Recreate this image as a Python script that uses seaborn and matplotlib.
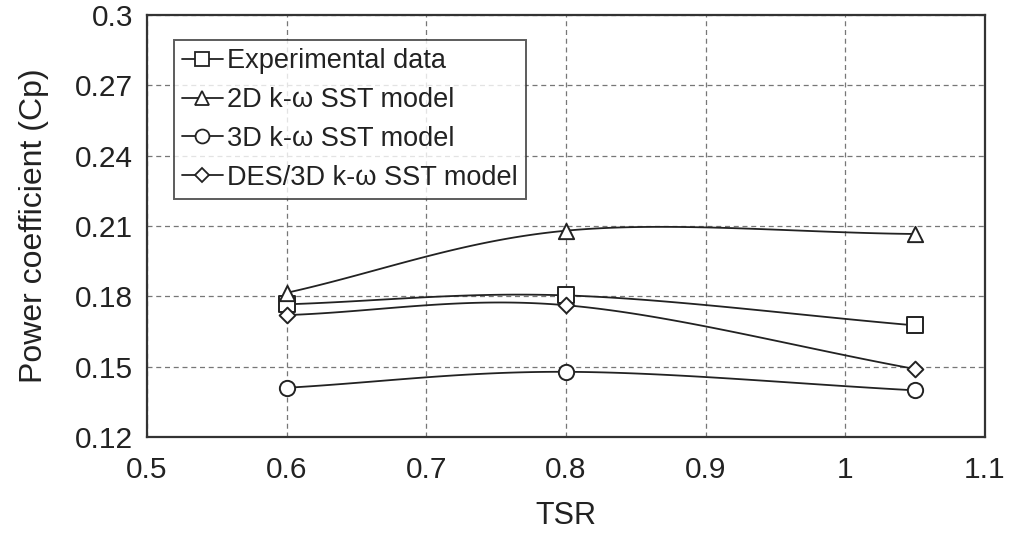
import numpy as np
import pandas as pd
import matplotlib
matplotlib.use("Agg")
import matplotlib.pyplot as plt
import seaborn as sns
from matplotlib.lines import Line2D

tsr = [0.6, 0.8, 1.05]
series_names = ["Experimental data", "2D k-\u03c9 SST model", "3D k-\u03c9 SST model", "DES/3D k-\u03c9 SST model"]
exp_cp = [0.1766, 0.1804, 0.1676]
sst2d_cp = [0.1815, 0.2080, 0.2066]
sst3d_cp = [0.1410, 0.1478, 0.1399]
des_cp = [0.1720, 0.1762, 0.1490]
markers = ["s", "^", "o", "D"]
xticks = [0.5, 0.6, 0.7, 0.8, 0.9, 1.0, 1.1]
xticklabels = ["0.5", "0.6", "0.7", "0.8", "0.9", "1", "1.1"]
yticks = [0.12, 0.15, 0.18, 0.21, 0.24, 0.27, 0.3]
yticklabels = ["0.12", "0.15", "0.18", "0.21", "0.24", "0.27", "0.3"]


def smooth(xs, ys, n=60):
    # Catmull-Rom style smoothing similar to Excel's smoothed lines
    xs = np.asarray(xs, float); ys = np.asarray(ys, float)
    P = np.column_stack([xs, ys])
    P = np.vstack([P[0] - (P[1] - P[0]), P, P[-1] + (P[-1] - P[-2])])
    out = []
    for i in range(1, len(P) - 2):
        p0, p1, p2, p3 = P[i - 1], P[i], P[i + 1], P[i + 2]
        t = np.linspace(0, 1, n)[:, None]
        c = 0.5 * ((2 * p1) + (-p0 + p2) * t + (2 * p0 - 5 * p1 + 4 * p2 - p3) * t ** 2
                   + (-p0 + 3 * p1 - 3 * p2 + p3) * t ** 3)
        out.append(c if i == 1 else c[1:])
    c = np.vstack(out)
    return c[:, 0], c[:, 1]


sns.set_theme(style="white")
plt.rcParams["font.family"] = ["Liberation Sans", "DejaVu Sans"]

fig = plt.figure(figsize=(10.09, 5.36), dpi=100)
ax = fig.add_axes([0.1457, 0.1847, 0.8305, 0.7873])

all_series = [exp_cp, sst2d_cp, sst3d_cp, des_cp]
handles = []
for name, vals, m in zip(series_names, all_series, markers):
    sx, sy = smooth(tsr, vals)
    sns.lineplot(x=sx, y=sy, ax=ax, color="#222222", linewidth=1.3, sort=False, estimator=None)
    ms = 8 if m == "D" else 11
    df = pd.DataFrame({"x": tsr, "y": vals})
    sns.scatterplot(data=df, x="x", y="y", ax=ax, marker=m, s=ms ** 2, facecolor="white",
                    edgecolor="#222222", linewidth=1.4, zorder=5)
    handles.append(Line2D([], [], color="#222222", linewidth=1.3, marker=m,
                          markersize=(ms - 1), markerfacecolor="white",
                          markeredgecolor="#222222", markeredgewidth=1.3))

ax.set_xlim(0.5, 1.1)
ax.set_ylim(0.12, 0.3)
ax.set_xticks(xticks)
ax.set_xticklabels(xticklabels)
ax.set_yticks(yticks)
ax.set_yticklabels(yticklabels)
ax.grid(True, color="#777777", linestyle=(0, (4, 3)), linewidth=0.9)
ax.set_axisbelow(True)
for sp in ax.spines.values():
    sp.set_color("#333333")
    sp.set_linewidth(1.6)
ax.tick_params(axis="both", direction="out", length=6, width=1.2, color="#333333",
               labelsize=21.5, labelcolor="#222222", pad=8)
ax.tick_params(axis="y", pad=4)
ax.set_xlabel("TSR", fontsize=22, color="#222222", labelpad=12)
ax.set_ylabel("Power coefficient (Cp)", fontsize=23, color="#222222", labelpad=19)

leg = ax.legend(handles, series_names, loc="upper left", bbox_to_anchor=(0.032, 0.94),
                fontsize=19.5, frameon=True, fancybox=False, handlelength=1.5,
                handletextpad=0.15, borderpad=0.3, labelspacing=0.47, borderaxespad=0)
leg.get_frame().set_edgecolor("#333333")
leg.get_frame().set_linewidth(1.4)
for t in leg.get_texts():
    t.set_color("#222222")

fig.savefig("out.png", dpi=100)
